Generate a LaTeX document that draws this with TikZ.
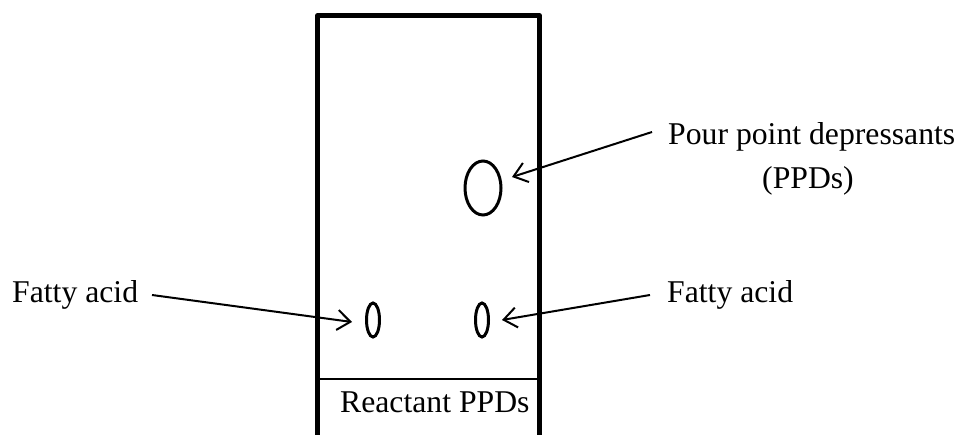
\documentclass[tikz,border=0pt]{standalone}
\usepackage{fontspec}
\setmainfont{Liberation Serif}
\usetikzlibrary{arrows.meta}
\begin{document}
\begin{tikzpicture}[x=1pt,y=-1pt,
  lbl/.style={inner sep=0pt,font=\fontsize{31.7}{38}\selectfont},
  ptr/.style={line width=2pt,-{Straight Barb[length=13pt,width=20pt,line width=2pt]}},
  wall/.style={line width=4.5pt,line join=round}]
\useasboundingbox (0,0) rectangle (961,435);
% plate
\draw[wall] (317.5,437) -- (317.5,15.5) -- (539.5,15.5) -- (539.5,437);
\coordinate (dl) at (317.5,379);
\coordinate (dr) at (539.5,379);
\draw[line width=2pt] (dl) -- (dr);
\node[lbl,anchor=base west] (react) at (340,413) {Reactant PPDs};
% spots
\draw[line width=3pt] (483,188) ellipse [x radius=18, y radius=27];
\coordinate (bigspot) at (512,177);
\draw[line width=3pt] (373,320) ellipse [x radius=6.5, y radius=17];
\draw[line width=3pt] (482,320) ellipse [x radius=6.5, y radius=17];
\coordinate (lspot) at (352,322);
\coordinate (rspot) at (502,320);
% labels
\node[lbl,anchor=base west] (fal) at (12,303) {Fatty acid};
\node[lbl,anchor=base west] (far) at (667,303) {Fatty acid};
\node[lbl,anchor=base west] (ppd) at (668,145) {Pour point depressants};
\node[lbl,anchor=base] (ppd2) at (808,189) {(PPDs)};
\coordinate (falend) at (152,295);
\coordinate (farend) at (650,295);
\coordinate (ppdend) at (652,132);
% arrows
\draw[ptr] (falend) -- (lspot);
\draw[ptr] (farend) -- (rspot);
\draw[ptr] (ppdend) -- (bigspot);
\end{tikzpicture}
\end{document}
